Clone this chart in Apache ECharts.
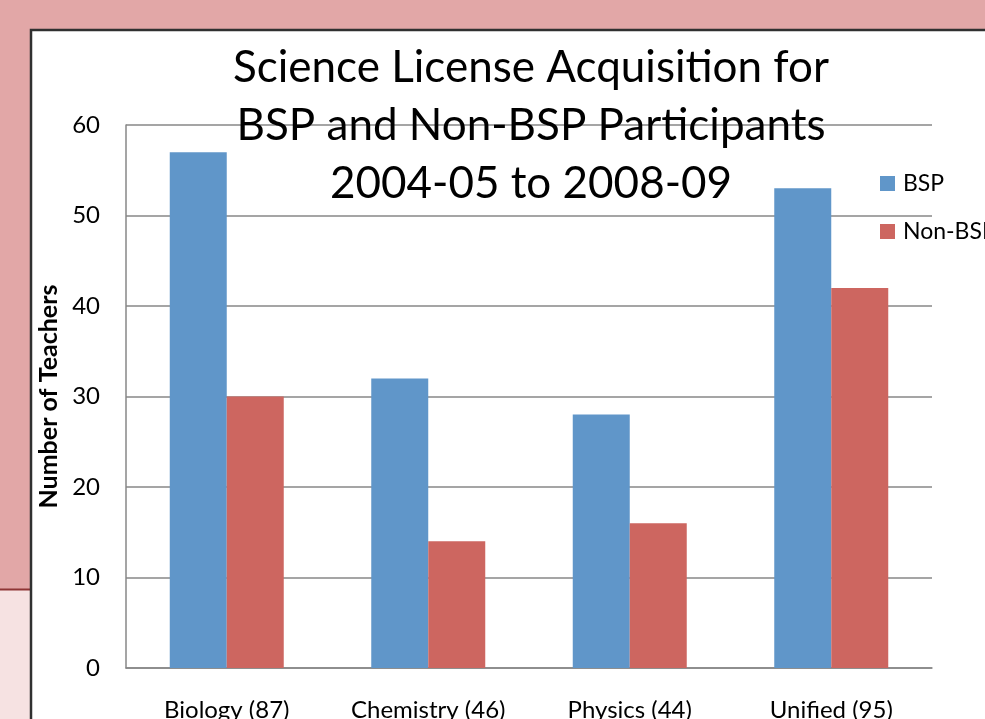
<!DOCTYPE html>
<html>
<head>
<meta charset="utf-8">
<script src="https://cdn.jsdelivr.net/npm/echarts@6/dist/echarts.min.js"></script>
<style>
  html, body { margin: 0; padding: 0; background: #e2a7a7; }
  #main { width: 985px; height: 719px; }
</style>
</head>
<body>
<div id="main"></div>
<script>
// chart data
var categories = ['Biology (87)', 'Chemistry (46)', 'Physics (44)', 'Unified (95)'];
var bspValues = [57, 32, 28, 53];
var nonBspValues = [30, 14, 16, 42];
var seriesNames = ['BSP', 'Non-BSP'];
var titleLines = ['Science License Acquisition for', 'BSP and Non-BSP Participants', '2004-05 to 2008-09'];

var font = 'Lato, "Open Sans", sans-serif';

var myChart = echarts.init(document.getElementById('main'));

var option = {
  animation: false,
  backgroundColor: '#e2a7a7',
  graphic: [
    // lighter strip lower left
    { type: 'rect', z: -10, shape: { x: 0, y: 589, width: 31, height: 140 }, style: { fill: '#f6e2e2' } },
    { type: 'line', z: -9, shape: { x1: 0, y1: 589.5, x2: 31, y2: 589.5 }, style: { stroke: '#8e3535', lineWidth: 2 } },
    // chart area box
    { type: 'rect', z: -8, shape: { x: 31, y: 30, width: 1100, height: 800 }, style: { fill: '#ffffff', stroke: '#303030', lineWidth: 2.5 } }
  ],
  title: {
    text: titleLines.join('\n'),
    left: 526,
    top: 34,
    textAlign: 'center',
    textStyle: {
      fontFamily: font,
      fontSize: 44,
      fontWeight: 'normal',
      color: '#000',
      lineHeight: 58
    }
  },
  legend: {
    orient: 'vertical',
    left: 880,
    top: 172,
    padding: 0,
    itemWidth: 15,
    itemHeight: 15,
    itemGap: 25,
    icon: 'rect',
    data: seriesNames,
    textStyle: { fontFamily: font, fontSize: 23, color: '#000', padding: [0, 0, 0, 3] }
  },
  grid: {
    left: 126,
    right: 53,
    top: 125,
    bottom: 51,
    outerBoundsMode: 'none'
  },
  xAxis: {
    type: 'category',
    data: categories,
    axisLine: { lineStyle: { color: '#878787', width: 1.5 } },
    axisTick: { show: false },
    axisLabel: { fontFamily: font, fontSize: 24, color: '#000', margin: 30 }
  },
  yAxis: {
    type: 'value',
    min: 0,
    max: 60,
    interval: 10,
    name: 'Number of Teachers',
    nameLocation: 'middle',
    nameGap: 60,
    nameTextStyle: { fontFamily: font, fontSize: 25, fontWeight: 'bold', color: '#000' },
    axisLine: { show: true, lineStyle: { color: '#878787', width: 1.5 } },
    axisTick: { show: false },
    axisLabel: { fontFamily: font, fontSize: 24, color: '#000', margin: 26 },
    splitLine: { lineStyle: { color: '#878787', width: 1.5 } }
  },
  series: [
    {
      name: seriesNames[0],
      type: 'bar',
      data: bspValues,
      barWidth: 57,
      barGap: '0%',
      itemStyle: { color: '#6096c9' }
    },
    {
      name: seriesNames[1],
      type: 'bar',
      data: nonBspValues,
      barWidth: 57,
      itemStyle: { color: '#cd6660' }
    }
  ]
};

myChart.setOption(option);
</script>
</body>
</html>
